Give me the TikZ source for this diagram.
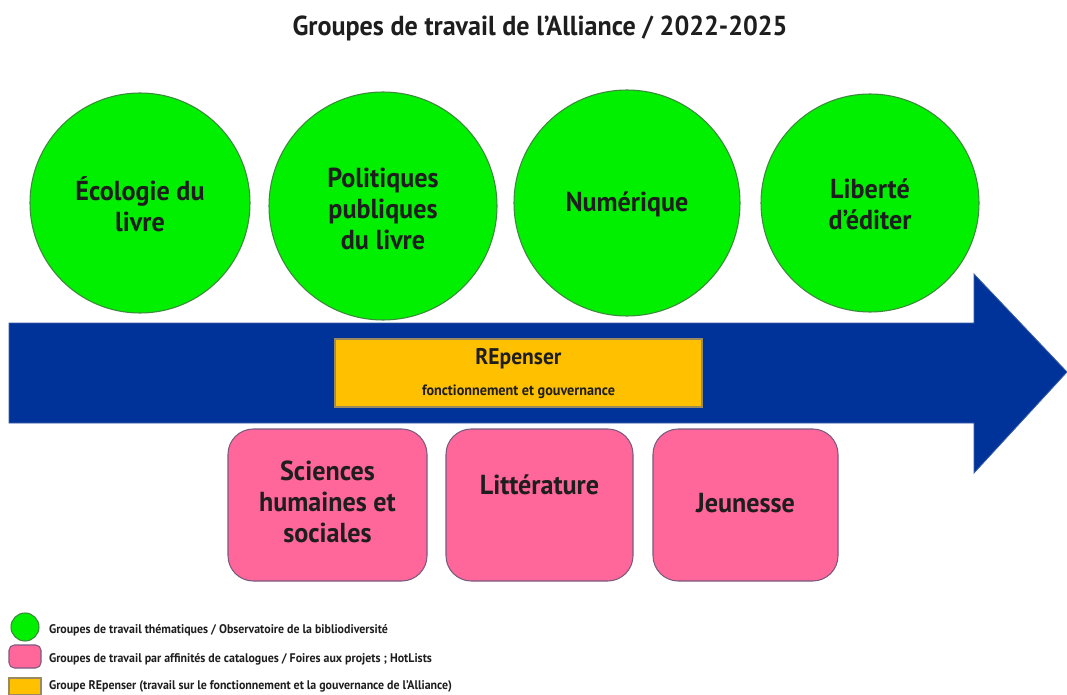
\documentclass[tikz,border=0pt]{standalone}
\usepackage{fontspec}
\setmainfont{PT Sans}[FakeStretch=0.95]
\definecolor{ggreen}{HTML}{00F000}
\definecolor{gborder}{HTML}{3C8A3C}
\definecolor{arrowblue}{HTML}{003399}
\definecolor{arrowedge}{HTML}{3A5FA8}
\definecolor{orangefill}{HTML}{FFC000}
\definecolor{orangeedge}{HTML}{9A8A60}
\definecolor{pinkfill}{HTML}{FF6699}
\definecolor{pinkedge}{HTML}{7A5A80}
\definecolor{txt}{HTML}{1E1E1E}
\begin{document}
\begin{tikzpicture}[x=0.75pt,y=-0.75pt,
  every node/.style={inner sep=0pt,outer sep=0pt,text=txt},
  themecircle/.style={circle,draw=gborder,fill=ggreen,line width=0.8pt},
  catbox/.style={rectangle,rounded corners=19pt,draw=pinkedge,fill=pinkfill,line width=0.8pt},
  repbox/.style={rectangle,draw=orangeedge,fill=orangefill,line width=0.8pt},
  biglabel/.style={align=center,font=\bfseries\fontsize{20.6pt}{23.5pt}\selectfont},
  legendtext/.style={anchor=west,font=\bfseries\fontsize{9.4pt}{10pt}\selectfont},
  arrowshape/.style={fill=arrowblue,draw=arrowedge,line width=0.6pt}]
\useasboundingbox (0,0) rectangle (1067,695);
\fill[white] (0,0) rectangle (1067,695);

% title
\node[font=\bfseries\fontsize{20.6pt}{25pt}\selectfont] (title) at (540,28) {Groupes de travail de l'Alliance / 2022-2025};

% timeline arrow
\draw[arrowshape] (9,323) -- (974,323) -- (974,274) -- (1067,372) -- (974,473) -- (974,423) -- (9,423) -- cycle;

% thematic groups
\node[themecircle,minimum size=165pt] (eco) at (140,203) {};
\node[themecircle,minimum size=171pt] (pol) at (383,206) {};
\node[themecircle,minimum size=169.5pt] (num) at (627,203) {};
\node[themecircle,minimum size=163.5pt] (lib) at (870,203) {};
\node[biglabel] (ecot) at (140,204) {Écologie du\\livre};
\node[biglabel] (polt) at (383,209) {Politiques\\publiques\\du livre};
\node[biglabel] (numt) at (627,204) {Numérique};
\node[biglabel] (libt) at (870,204) {Liberté\\d'éditer};

% REpenser
\node[repbox,minimum width=275.25pt,minimum height=51pt] (rep) at (518.5,373) {};
\node[font=\bfseries\fontsize{17pt}{19pt}\selectfont] (rept) at (518.5,359) {REpenser};
\node[font=\bfseries\fontsize{11.2pt}{12pt}\selectfont] (reps) at (518.5,392) {fonctionnement et gouvernance};

% catalogue groups
\node[catbox,minimum width=149.25pt,minimum height=114pt] (shs) at (327.5,505) {};
\node[catbox,minimum width=140.25pt,minimum height=114pt] (lit) at (539.5,505) {};
\node[catbox,minimum width=138.75pt,minimum height=114pt] (jeu) at (745.5,505) {};
\node[biglabel] (shst) at (327.5,502) {Sciences\\humaines et\\sociales};
\node[biglabel] (litt) at (539.5,485) {Littérature};
\node[biglabel] (jeut) at (745.5,503) {Jeunesse};

% legend
\node[themecircle,minimum size=21pt] (lg1) at (25,627) {};
\node[catbox,rounded corners=4pt,minimum width=24pt,minimum height=17.25pt] (lg2) at (25,656.5) {};
\node[repbox,minimum width=24pt,minimum height=12.75pt] (lg3) at (25,686.5) {};
\node[legendtext] (lt1) at (49,630) {Groupes de travail thématiques / Observatoire de la bibliodiversité};
\node[legendtext] (lt2) at (49,659) {Groupes de travail par affinités de catalogues / Foires aux projets ; HotLists};
\node[legendtext] (lt3) at (49,686) {Groupe REpenser (travail sur le fonctionnement et la gouvernance de l'Alliance)};
\end{tikzpicture}
\end{document}
